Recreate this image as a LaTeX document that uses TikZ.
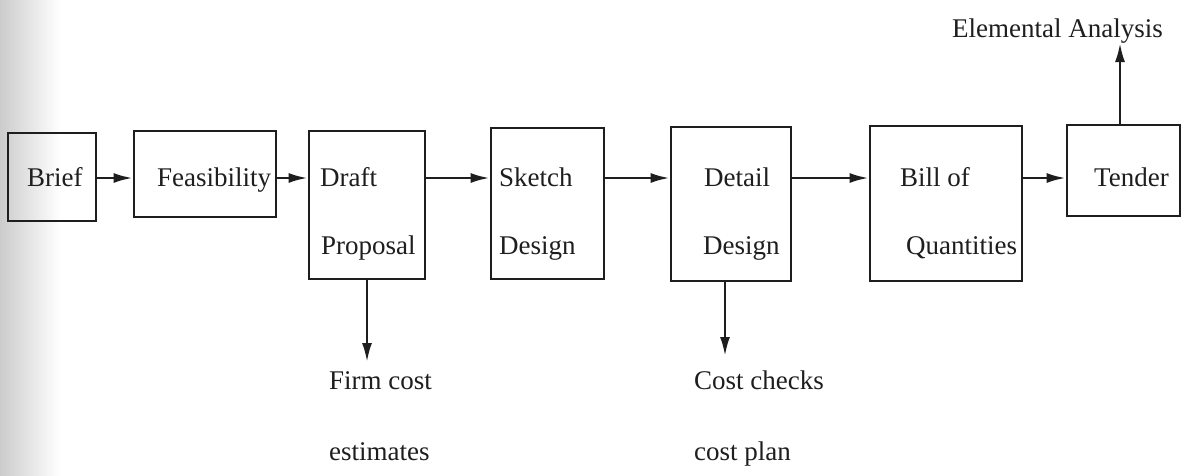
\documentclass[tikz,border=0pt]{standalone}
\usepackage{fontspec}
\setmainfont{Liberation Serif}
\usetikzlibrary{arrows.meta}
\definecolor{ink}{HTML}{1E1E1E}
\begin{document}
\begin{tikzpicture}[x=1pt,y=-1pt,
  stage/.style={draw=ink, line width=2.7pt, inner sep=0pt},
  txt/.style={text=ink, inner sep=0pt, anchor=base west,
    font=\fontsize{27}{32}\selectfont},
  flow/.style={draw=ink, line width=2.5pt,
    -{Latex[length=19pt,width=10pt]}}]
% page area and the scanner shadow on the left edge
\useasboundingbox (0,0) rectangle (1190,475);
\fill[white] (0,0) rectangle (1190,475);
\fill[left color=black!20, right color=white] (0,0) rectangle (60,475);

% stage boxes
\node[stage, minimum width=88pt,  minimum height=88pt]  (brief)  at (52,177)    {};
\node[stage, minimum width=142pt, minimum height=86pt]  (feas)   at (205,174)   {};
\node[stage, minimum width=116pt, minimum height=148pt] (draft)  at (367,205)   {};
\node[stage, minimum width=113pt, minimum height=151pt] (sketch) at (547.5,203.5) {};
\node[stage, minimum width=120pt, minimum height=154pt] (detail) at (731,204)   {};
\node[stage, minimum width=152pt, minimum height=155pt] (bill)   at (946,203.5) {};
\node[stage, minimum width=113pt, minimum height=91pt]  (tender) at (1123.5,170.5) {};

% box captions
\node[txt] (t-brief)  at (27,186)   {Brief};
\node[txt] (t-feas)   at (157,186)  {Feasibility};
\node[txt] (t-draft)  at (320,186)  {Draft};
\node[txt] (t-prop)   at (321,254)  {Proposal};
\node[txt] (t-sketch) at (499,186)  {Sketch};
\node[txt] (t-sdes)   at (499,254)  {Design};
\node[txt] (t-detail) at (704,186)  {Detail};
\node[txt] (t-ddes)   at (703,254)  {Design};
\node[txt] (t-bill)   at (900,186)  {Bill of};
\node[txt] (t-qty)    at (906,254)  {Quantities};
\node[txt] (t-tender) at (1094,186) {Tender};

% outputs
\node[txt] (elem)  at (952,37)  {Elemental Analysis};
\node[txt] (firm)  at (329,389) {Firm cost};
\node[txt] (est)   at (329,460) {estimates};
\node[txt] (check) at (694,389) {Cost checks};
\node[txt] (plan)  at (694,460) {cost plan};

% connector ends
\coordinate (row)  at (0,178);
\coordinate (outA) at (367,362);
\coordinate (outB) at (725,356);
\coordinate (outC) at (1120,43);

% main sequence
\draw[flow] (brief.east  |- row) -- (feas.west   |- row);
\draw[flow] (feas.east   |- row) -- (draft.west  |- row);
\draw[flow] (draft.east  |- row) -- (sketch.west |- row);
\draw[flow] (sketch.east |- row) -- (detail.west |- row);
\draw[flow] (detail.east |- row) -- (bill.west   |- row);
\draw[flow] (bill.east   |- row) -- (tender.west |- row);

% branch arrows
\draw[flow] (draft.south  -| outA) -- (outA);
\draw[flow] (detail.south -| outB) -- (outB);
\draw[flow] (tender.north -| outC) -- (outC);
\end{tikzpicture}
\end{document}
